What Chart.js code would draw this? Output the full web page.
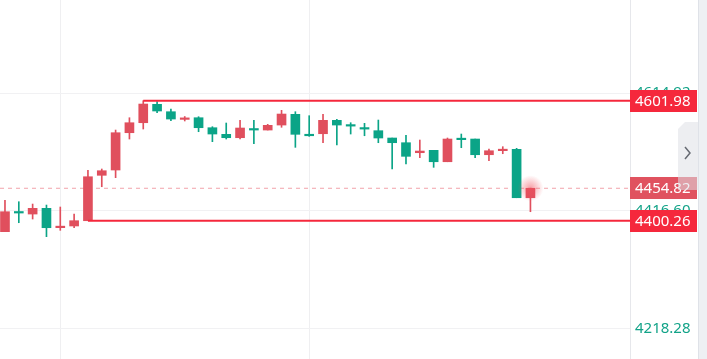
<!DOCTYPE html>
<html>
<head>
<meta charset="utf-8">
<script src="https://cdn.jsdelivr.net/npm/chart.js@4.4.1/dist/chart.umd.min.js"></script>
<style>
  html, body { margin: 0; padding: 0; background: #fff; }
</style>
</head>
<body>
<canvas id="kChart" width="707" height="359"></canvas>
<script>
// candle values (red = close above open)
const opens  = [4381.8, 4414.5, 4411.5, 4421.1, 4388.6, 4391.4, 4400.26, 4476.6, 4485.5, 4548.2,
                4565.0, 4595.9, 4583.5, 4570.6, 4573.4, 4556.6, 4545.5, 4539.8, 4554.9, 4552.7,
                4561.1, 4579.1, 4545.5, 4546.5, 4569.0, 4560.6, 4555.6, 4551.6, 4539.3, 4531.4,
                4514.6, 4518.6, 4499.4, 4537.7, 4537.6, 4511.2, 4518.0, 4520.3, 4438.9];
const highs  = [4434.6, 4432.2, 4428.3, 4426.6, 4423.3, 4411.5, 4485.0, 4487.2, 4552.7, 4573.4,
                4601.98, 4600.5, 4588.0, 4575.4, 4575.1, 4558.3, 4564.5, 4569.0, 4569.0, 4562.3,
                4585.8, 4583.5, 4576.8, 4579.1, 4570.7, 4565.0, 4564.0, 4569.5, 4539.3, 4543.8,
                4535.9, 4518.6, 4539.3, 4546.0, 4537.6, 4520.8, 4524.7, 4522.0, 4454.82];
const lows   = [4381.8, 4396.9, 4403.1, 4373.4, 4384.1, 4388.5, 4400.26, 4457.4, 4472.6, 4537.6,
                4554.4, 4581.8, 4568.4, 4567.9, 4549.9, 4533.1, 4537.6, 4537.6, 4529.7, 4552.7,
                4557.3, 4523.6, 4542.1, 4531.4, 4527.5, 4546.0, 4543.1, 4531.4, 4487.2, 4495.6,
                4506.2, 4490.0, 4499.4, 4523.0, 4506.2, 4501.1, 4512.9, 4438.9, 4415.4];
const closes = [4415.4, 4413.2, 4421.1, 4388.5, 4389.6, 4400.3, 4474.2, 4484.3, 4548.2, 4565.0,
                4596.4, 4584.7, 4571.2, 4571.8, 4556.6, 4546.0, 4539.8, 4556.1, 4552.7, 4560.6,
                4579.6, 4545.5, 4543.1, 4569.0, 4561.1, 4559.3, 4554.3, 4539.3, 4531.4, 4508.5,
                4517.4, 4499.4, 4537.6, 4536.5, 4511.2, 4517.9, 4519.2, 4438.9, 4454.82];

const yTicks = [4218.28, 4416.60, 4614.92];
const xGridAt = [4, 22];
const highLevel = 4601.98, highFrom = 10;
const lowLevel = 4400.26, lowFrom = 6;
const lastPrice = 4454.82;

const X_MIN = -0.36, X_MAX = 45.2;
const UP = '#e04f5d', DOWN = '#0ba487', LEVEL = '#f5283c';

const candleColors = closes.map((c, i) => c >= opens[i] ? UP : DOWN);

const overlay = {
  id: 'overlay',
  afterDatasetsDraw(chart) {
    const {ctx, scales: {x, y}} = chart;
    const i = closes.length - 1;
    const px = x.getPixelForValue(i), py = y.getPixelForValue(closes[i]);
    const g = ctx.createRadialGradient(px, py, 0, px, py, 13);
    g.addColorStop(0, 'rgba(240,80,92,0.55)');
    g.addColorStop(1, 'rgba(240,80,92,0)');
    ctx.save();
    ctx.fillStyle = g;
    ctx.beginPath();
    ctx.arc(px, py, 13, 0, Math.PI * 2);
    ctx.fill();
    ctx.restore();
  },
  afterDraw(chart) {
    const {ctx, chartArea, scales: {y}} = chart;
    const left = chartArea.right;
    ctx.save();
    // right edge strip
    ctx.fillStyle = '#eef0f3';
    ctx.fillRect(698, 0, 9, 359);
    ctx.fillStyle = '#dfe2e8';
    ctx.fillRect(698, 0, 1, 359);

    ctx.font = '15px "Noto Sans"';
    ctx.textBaseline = 'middle';
    ctx.textAlign = 'left';
    yTicks.forEach(v => {
      ctx.fillStyle = '#12a388';
      ctx.fillText(v.toFixed(2), left + 5, y.getPixelForValue(v));
    });

    const boxes = [[highLevel, LEVEL], [lastPrice, '#e0525f'], [lowLevel, LEVEL]];
    boxes.forEach(([v, col]) => {
      const py = Math.round(y.getPixelForValue(v));
      ctx.fillStyle = col;
      ctx.fillRect(left, py - 11, 67, 22);
      ctx.fillStyle = '#fff';
      ctx.fillText(v.toFixed(2), left + 5, py + 1);
    });

    // collapse tab with chevron
    ctx.fillStyle = 'rgba(222,224,230,0.55)';
    ctx.beginPath();
    ctx.moveTo(678, 129);
    ctx.lineTo(685, 122);
    ctx.lineTo(698, 122);
    ctx.lineTo(698, 190);
    ctx.lineTo(678, 190);
    ctx.closePath();
    ctx.fill();
    ctx.strokeStyle = '#666a72';
    ctx.lineWidth = 1.5;
    ctx.beginPath();
    ctx.moveTo(685, 147);
    ctx.lineTo(690, 153);
    ctx.lineTo(685, 159);
    ctx.stroke();
    ctx.restore();
  }
};

new Chart(document.getElementById('kChart'), {
  type: 'bar',
  data: {
    datasets: [
      {
        label: 'body',
        data: opens.map((o, i) => ({x: i, y: [o, closes[i]]})),
        backgroundColor: candleColors,
        barThickness: 9,
        minBarLength: 1.5,
        borderWidth: 0,
        grouped: false,
        order: 1
      },
      {
        label: 'wick',
        data: lows.map((l, i) => ({x: i, y: [l, highs[i]]})),
        backgroundColor: candleColors,
        barThickness: 1,
        borderWidth: 0,
        grouped: false,
        order: 2
      },
      {
        type: 'line',
        label: 'high',
        data: [{x: highFrom, y: highLevel}, {x: X_MAX, y: highLevel}],
        borderColor: LEVEL,
        borderWidth: 2,
        pointRadius: 0,
        order: 0
      },
      {
        type: 'line',
        label: 'low',
        data: [{x: lowFrom, y: lowLevel}, {x: X_MAX, y: lowLevel}],
        borderColor: LEVEL,
        borderWidth: 2,
        pointRadius: 0,
        order: 0
      },
      {
        type: 'line',
        label: 'last',
        data: [{x: X_MIN, y: lastPrice}, {x: X_MAX, y: lastPrice}],
        borderColor: '#f2a3aa',
        borderWidth: 1,
        borderDash: [4, 4],
        pointRadius: 0,
        order: 3
      }
    ]
  },
  options: {
    responsive: false,
    animation: false,
    layout: {padding: 0},
    plugins: {legend: {display: false}, tooltip: {enabled: false}},
    scales: {
      x: {
        type: 'linear',
        min: X_MIN,
        max: X_MAX,
        offset: false,
        grid: {offset: false, color: '#efeff1', drawTicks: false},
        border: {display: false},
        ticks: {display: false},
        afterBuildTicks: s => { s.ticks = xGridAt.map(v => ({value: v})); },
        afterFit: s => { s.height = 0; }
      },
      y: {
        position: 'right',
        min: 4167.8,
        max: 4771.3,
        grid: {color: '#f1f1f3', drawTicks: false},
        border: {display: true, color: '#e6e7eb'},
        ticks: {display: false},
        afterBuildTicks: s => { s.ticks = yTicks.map(v => ({value: v})); },
        afterFit: s => { s.width = 77; }
      }
    }
  },
  plugins: [overlay]
});
</script>
</body>
</html>
